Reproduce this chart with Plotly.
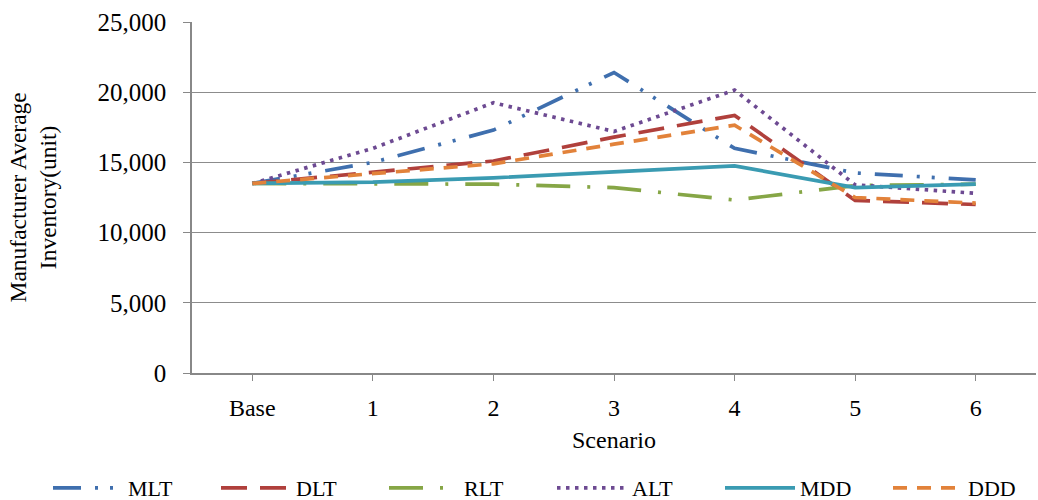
import plotly.graph_objects as go

categories = ["Base", "1", "2", "3", "4", "5", "6"]
mlt = [13500, 15000, 17300, 21400, 16000, 14250, 13750]
dlt = [13500, 14300, 15100, 16800, 18350, 12300, 12000]
rlt = [13500, 13500, 13450, 13200, 12320, 13350, 13450]
alt = [13500, 16000, 19250, 17200, 20150, 13400, 12800]
mdd = [13500, 13600, 13900, 14300, 14750, 13200, 13450]
ddd = [13500, 14200, 14900, 16300, 17650, 12500, 12100]

series = [
    ("MLT", mlt, "#3f6fae", "28px,14px,3px,12px,3px,14px", "legend"),
    ("DLT", dlt, "#b0403c", "26px,13px", "legend"),
    ("RLT", rlt, "#86a646", "34px,17px,3px,17px", "legend2"),
    ("ALT", alt, "#6d4a92", "3.5px,5.5px", "legend2"),
    ("MDD", mdd, "#3a9bb2", "solid", "legend3"),
    ("DDD", ddd, "#e2823a", "14px,10px", "legend3"),
]

fig = go.Figure()
for name, vals, color, dash, leg in series:
    fig.add_trace(go.Scatter(
        x=categories, y=vals, name=name, mode="lines", legend=leg,
        line=dict(color=color, width=3.7, dash=dash),
    ))

L, T, W, H = 192, 22, 844, 351
LX0 = 48
font_family = "Liberation Serif"
legend_common = dict(orientation="h", xanchor="left",
                     y=-(488 - (T + H)) / H, yanchor="middle",
                     font=dict(size=22), itemwidth=70, entrywidth=83,
                     traceorder="normal", bgcolor="rgba(0,0,0,0)")
fig.update_layout(
    width=1038, height=500,
    margin=dict(l=L, r=1038 - L - W, t=T, b=500 - T - H, autoexpand=False),
    plot_bgcolor="white", paper_bgcolor="white",
    font=dict(family=font_family, size=24, color="black"),
    showlegend=True,
    legend=dict(x=(LX0 - L) / W, **legend_common),
    legend2=dict(x=(LX0 + 2 * 168 - L) / W, **legend_common),
    legend3=dict(x=(LX0 + 4 * 168 - L) / W, **legend_common),
    xaxis=dict(
        type="category", range=[-0.5, 6.5], automargin=False,
        showline=True, linecolor="#888888", linewidth=1.5,
        ticks="outside", ticklen=6, tickcolor="#888888",
        showgrid=False,
        tickfont=dict(size=24), ticklabelstandoff=6,
    ),
    yaxis=dict(
        range=[0, 25000], dtick=5000, tickformat=",", automargin=False,
        showline=True, linecolor="#888888", linewidth=1.5,
        ticks="outside", ticklen=7, tickcolor="#888888",
        showgrid=True, gridcolor="#8c8c8c", gridwidth=1.2,
        zeroline=False,
        tickfont=dict(size=25), ticklabelstandoff=12,
    ),
    annotations=[
        dict(text="Manufacturer Average<br>Inventory(unit)", textangle=-90,
             xref="paper", yref="paper", x=-(L - 33) / W, y=0.5,
             xanchor="center", yanchor="middle", showarrow=False,
             font=dict(size=23.5)),
        dict(text="Scenario", xref="paper", yref="paper", x=0.5, y=-(440 - (T + H)) / H,
             xanchor="center", yanchor="middle", showarrow=False,
             font=dict(size=24)),
    ],
)

fig.write_html("out.html", config={"displayModeBar": False},
               post_script="document.body.style.margin='0';document.body.style.overflow='hidden';")
